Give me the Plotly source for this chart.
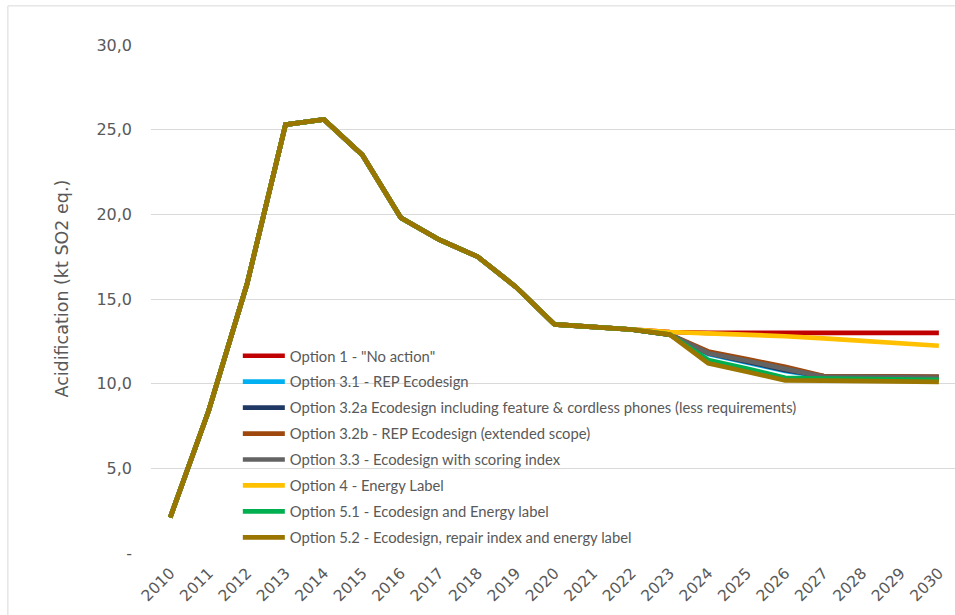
import plotly.graph_objects as go

years = [str(y) for y in range(2010, 2031)]

# 2010-2022: identical for every option
history = [2.1, 8.4, 15.9, 25.3, 25.6, 23.5, 19.8, 18.5, 17.5, 15.7, 13.5, 13.35, 13.2]

# 2023-2030 per policy option
opt_1 = [13.05, 13.0, 13.0, 13.0, 13.0, 13.0, 13.0, 13.0]
opt_31 = [12.9, 11.75, 11.25, 10.75, 10.4, 10.4, 10.4, 10.35]
opt_32a = [12.9, 11.8, 11.3, 10.8, 10.45, 10.45, 10.4, 10.4]
opt_32b = [12.9, 11.9, 11.45, 11.0, 10.45, 10.45, 10.4, 10.4]
opt_33 = [12.9, 11.8, 11.35, 10.9, 10.4, 10.4, 10.4, 10.35]
opt_4 = [13.05, 12.97, 12.9, 12.8, 12.68, 12.54, 12.34, 12.24]
opt_51 = [12.9, 11.4, 10.9, 10.35, 10.3, 10.28, 10.25, 10.22]
opt_52 = [12.9, 11.2, 10.7, 10.2, 10.18, 10.15, 10.12, 10.1]

series = [
    ('Option 1 - "No action"', opt_1, "#C00000"),
    ("Option 3.1 - REP Ecodesign", opt_31, "#00B0F0"),
    ("Option 3.2a Ecodesign including feature & cordless phones (less requirements)", opt_32a, "#203864"),
    ("Option 3.2b - REP Ecodesign (extended scope)", opt_32b, "#9E480E"),
    ("Option 3.3 - Ecodesign with scoring index", opt_33, "#636363"),
    ("Option 4 - Energy Label", opt_4, "#FFC000"),
    ("Option 5.1 - Ecodesign and Energy label", opt_51, "#00B050"),
    ("Option 5.2 - Ecodesign, repair index and energy label", opt_52, "#9A7500"),
]

y_ticks = [0, 5, 10, 15, 20, 25, 30]
y_tick_text = ["-", "5,0", "10,0", "15,0", "20,0", "25,0", "30,0"]

axis_font = "'DejaVu Sans', Verdana, sans-serif"
legend_font = "Lato, 'Open Sans', sans-serif"
grey = "#595959"

fig = go.Figure()
for i, (name, tail, color) in enumerate(series):
    fig.add_trace(
        go.Scatter(
            x=years,
            y=history + tail,
            name=name,
            mode="lines",
            legendgroup=str(i),
            line={"color": color, "width": 4.7},
        )
    )

fig.update_layout(
    width=955,
    height=615,
    margin={"l": 151, "r": 0, "t": 45, "b": 62},
    paper_bgcolor="#ffffff",
    plot_bgcolor="#ffffff",
    font={"family": axis_font, "color": grey, "size": 14},
    showlegend=True,
    legend={
        "x": 0.108,
        "y": 0.42,
        "xanchor": "left",
        "yanchor": "top",
        "bgcolor": "rgba(0,0,0,0)",
        "font": {"family": legend_font, "size": 14.8, "color": grey},
        "tracegroupgap": 3.7,
        "itemwidth": 42,
    },
    xaxis={
        "type": "category",
        "range": [-0.5, 20.42],
        "tickangle": -45,
        "tickfont": {"family": axis_font, "size": 15.5, "color": grey},
        "showgrid": False,
        "showline": False,
        "ticks": "",
        "ticklabelstandoff": 7,
    },
    yaxis={
        "range": [0, 30],
        "tickvals": y_ticks,
        "ticktext": y_tick_text,
        "tickfont": {"family": axis_font, "size": 16, "color": grey},
        "gridcolor": "#D9D9D9",
        "gridwidth": 1,
        "zeroline": False,
        "showline": False,
        "ticklabelstandoff": 18,
    },
    annotations=[
        {
            "text": "Acidification (kt SO2 eq.)",
            "xref": "paper",
            "yref": "paper",
            "x": -0.126,
            "y": 0.52,
            "showarrow": False,
            "textangle": -90,
            "font": {"family": axis_font, "size": 17.5, "color": grey},
        }
    ],
    shapes=[
        {
            "type": "rect",
            "xref": "paper",
            "yref": "paper",
            "x0": -0.178,
            "x1": 1.2,
            "y0": -0.5,
            "y1": 1.077,
            "line": {"color": "#D9D9D9", "width": 1},
            "layer": "below",
        }
    ],
)

fig.write_html(
    "out.html",
    config={"displayModeBar": False},
    post_script="document.body.style.margin='0';document.body.style.overflow='hidden';",
)
